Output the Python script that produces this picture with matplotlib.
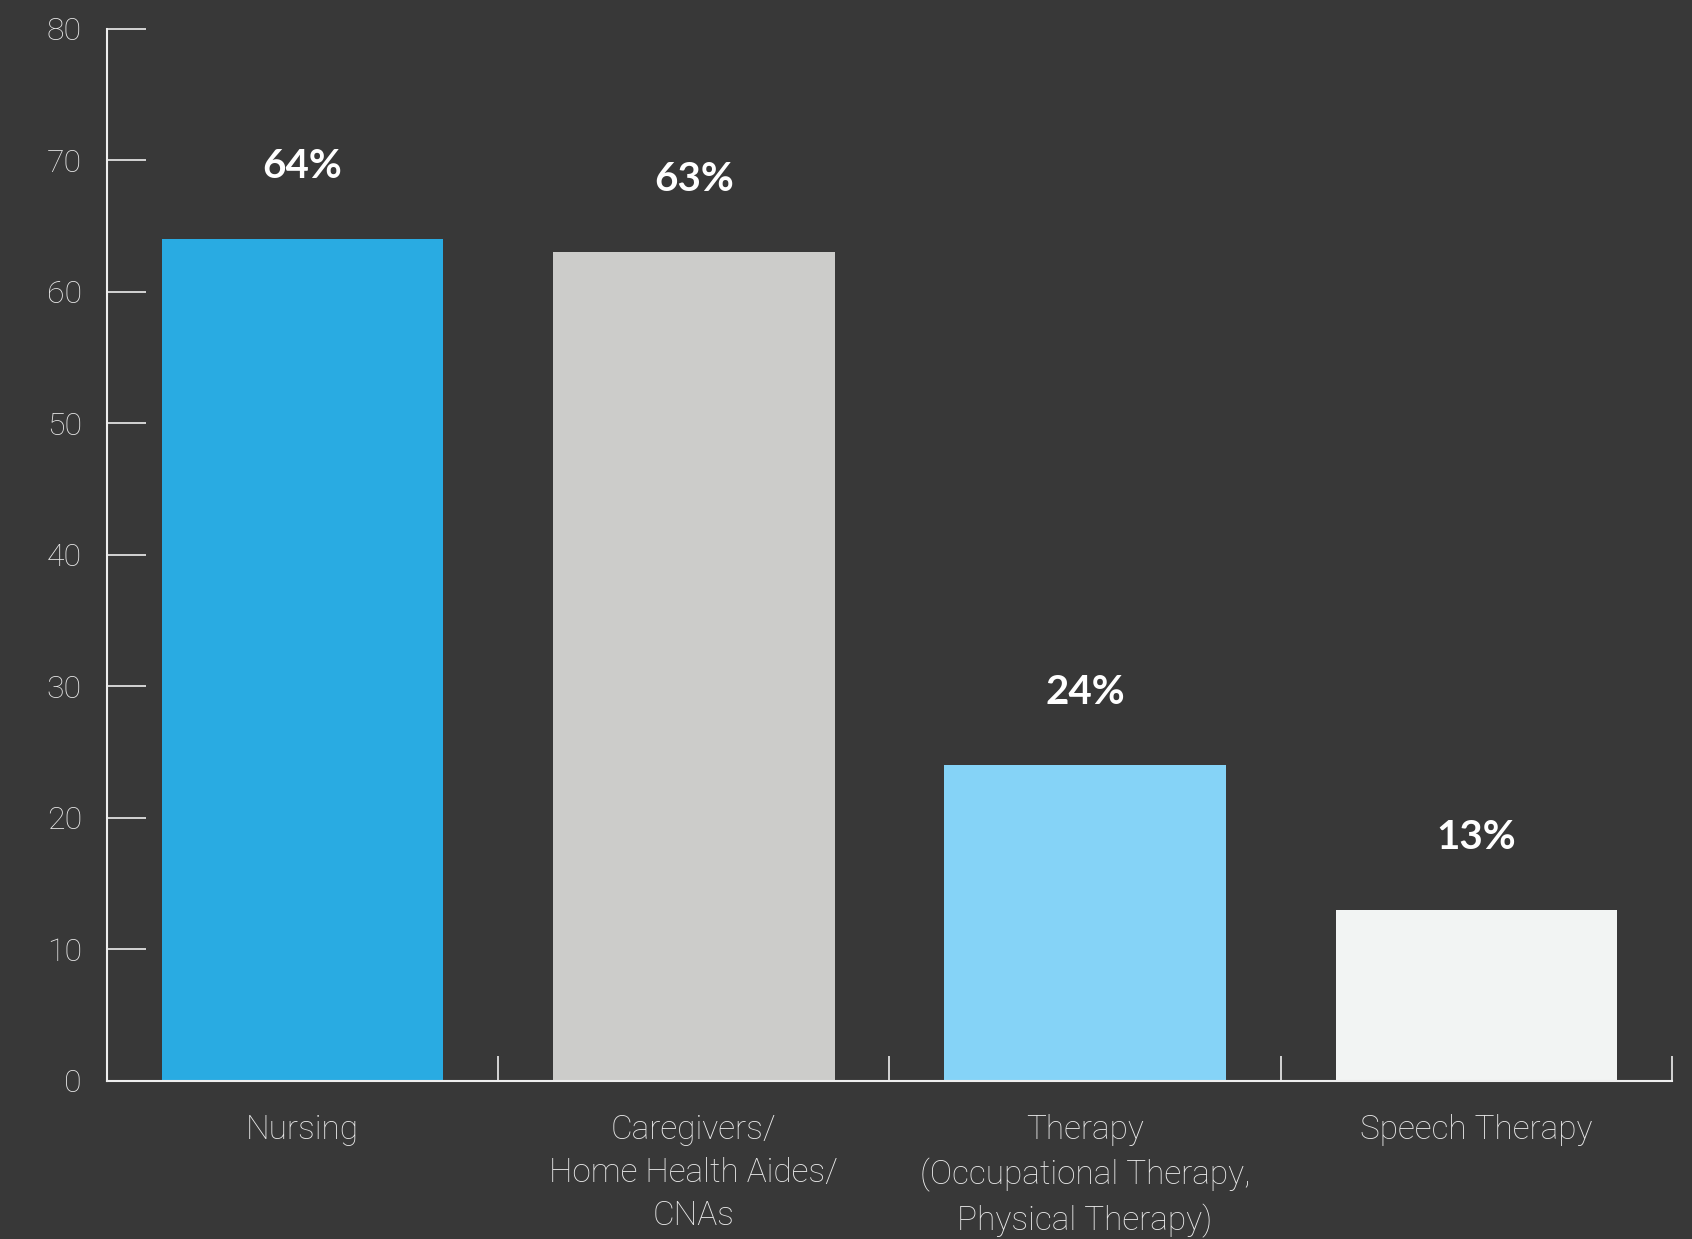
import matplotlib
matplotlib.use("Agg")
import matplotlib.pyplot as plt
import numpy as np

# share of respondents by discipline
categories = ["Nursing", "Caregivers/\nHome Health Aides/\nCNAs",
              "Therapy\n(Occupational Therapy,\nPhysical Therapy)", "Speech Therapy"]
values = [64, 63, 24, 13]
bar_colors = ["#29ABE2", "#CCCCCA", "#85D3F7", "#F2F4F3"]
y_ticks = [0, 10, 20, 30, 40, 50, 60, 70, 80]

bg = "#383838"
axis_color = "#EEEEEE"
text_color = "#E8E8E8"
label_font = "Roboto"

fig = plt.figure(figsize=(16.92, 12.39), dpi=100, facecolor=bg)
ax = fig.add_axes([0.0632, 0.1278, 0.9250, 0.8490])
ax.set_facecolor(bg)

x = np.arange(len(categories))
ax.bar(x, values, width=0.72, color=bar_colors, zorder=2)

# value labels above each bar
for xi, v in zip(x, values):
    ax.text(xi, v + 5.5, f"{v}%", ha="center", va="center", color="white",
            fontsize=29, fontweight="bold", family="Lato")

ax.set_xlim(-0.5, len(categories) - 0.5)
ax.set_ylim(0, 80)

for side in ["top", "right"]:
    ax.spines[side].set_visible(False)
for side in ["left", "bottom"]:
    ax.spines[side].set_color(axis_color)
    ax.spines[side].set_linewidth(1.5)

ax.set_yticks(y_ticks)
ax.tick_params(axis="y", direction="in", length=28, width=1.2, color=axis_color,
               labelcolor=text_color, labelsize=23, pad=18)

ax.set_xticks(x)
ax.set_xticklabels(categories, linespacing=1.45)
ax.set_xticks(np.arange(len(categories)) + 0.5, minor=True)
ax.tick_params(axis="x", which="major", length=0, labelcolor=text_color,
               labelsize=24, pad=24)
ax.tick_params(axis="x", which="minor", direction="in", length=18, width=1.2,
               color=axis_color)

for lbl in ax.get_xticklabels() + ax.get_yticklabels():
    lbl.set_family(label_font)
    lbl.set_fontweight("light")

fig.savefig("out.png", dpi=100, facecolor=bg)
